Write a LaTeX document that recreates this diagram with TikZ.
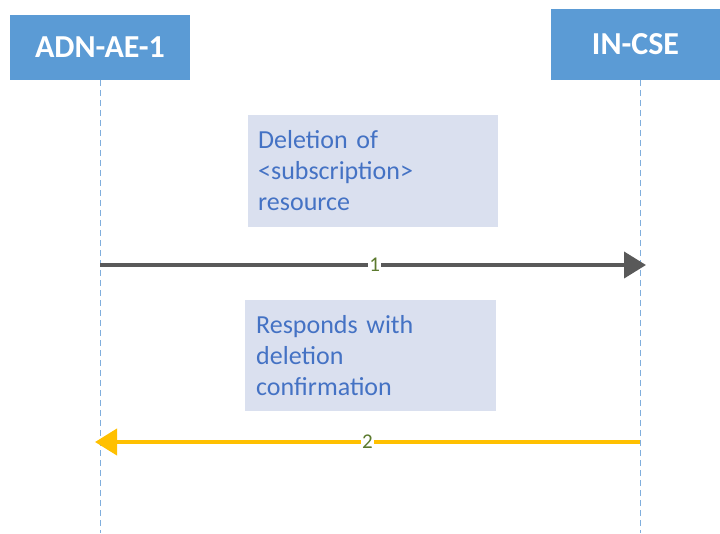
\documentclass[tikz,border=0pt]{standalone}
\usepackage{fontspec}
\setmainfont{Carlito}
\usetikzlibrary{arrows.meta}
\definecolor{hdrblue}{HTML}{5B9BD5}
\definecolor{lifeblue}{HTML}{7FAEDD}
\definecolor{notefill}{HTML}{DAE0EF}
\definecolor{notetext}{HTML}{4472C4}
\definecolor{msggray}{HTML}{595959}
\definecolor{msgorange}{HTML}{FFC000}
\definecolor{numgreen}{HTML}{5C7A2E}
\begin{document}
\begin{tikzpicture}[x=1pt,y=-1pt,
  header/.style={fill=hdrblue,text=white,font=\fontsize{32}{36}\selectfont\bfseries,inner sep=0pt},
  lifeline/.style={draw=lifeblue,line width=1pt,dash pattern=on 6pt off 4pt},
  notebox/.style={text=notetext,font=\fontsize{26}{31}\selectfont,align=left,anchor=north west,inner sep=0pt,text width=235pt},
  msg/.style={line width=4pt,-{Triangle[length=22pt,width=26pt]}},
  num/.style={fill=white,text=numgreen,font=\fontsize{21}{24}\selectfont,inner sep=1pt}]
\useasboundingbox (0,0) rectangle (720,533);
% participants
\node[header,minimum width=180pt,minimum height=65pt] (ae) at (100,47.5) {ADN-AE-1};
\node[header,minimum width=169pt,minimum height=71pt] (cse) at (635.5,44.5) {IN-CSE};
% lifelines
\coordinate (aeEnd) at (100,533);
\coordinate (cseEnd) at (640,533);
\draw[lifeline] (ae.south) -- (aeEnd);
\draw[lifeline] (640,80) -- (cseEnd);
% notes
\fill[notefill] (248,115) rectangle (498,227);
\node[notebox] (n1) at (258,130) {Deletion of\\\textless subscription\textgreater\\resource};
\fill[notefill] (245,300) rectangle (496,411);
\node[notebox] (n2) at (256,315) {Responds with\\deletion\\confirmation};
% messages
\coordinate (m1s) at (100,265);
\coordinate (m1e) at (646,265);
\coordinate (m2s) at (640,442);
\coordinate (m2e) at (95,442);
\draw[msg,draw=msggray,fill=msggray] (m1s) -- (m1e) node[num,pos=0.503] (l1) {1};
\draw[msg,draw=msgorange,fill=msgorange] (m2s) -- (m2e) node[num,pos=0.5] (l2) {2};
\end{tikzpicture}
\end{document}
